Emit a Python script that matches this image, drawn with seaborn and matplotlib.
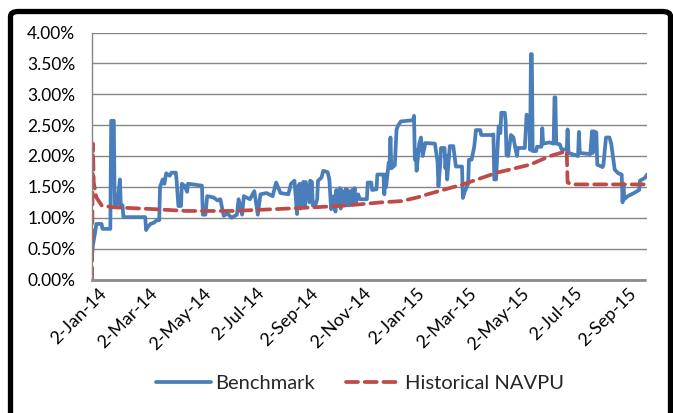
import matplotlib
matplotlib.use("Agg")
import matplotlib.pyplot as plt
import matplotlib.dates as mdates
import matplotlib.transforms as mtransforms
from matplotlib.ticker import PercentFormatter, FuncFormatter
from matplotlib.patches import FancyBboxPatch
import pandas as pd
import seaborn as sns

# Benchmark (in %)
bench_dates = [
    '2014-01-02', '2014-01-03', '2014-01-06', '2014-01-07', '2014-01-13', '2014-01-14', '2014-01-23', '2014-01-24',
    '2014-01-27', '2014-01-28', '2014-01-31', '2014-02-03', '2014-02-04', '2014-02-06', '2014-02-07', '2014-03-04',
    '2014-03-05', '2014-03-07', '2014-03-10', '2014-03-14', '2014-03-17', '2014-03-20', '2014-03-21', '2014-03-24',
    '2014-03-26', '2014-03-28', '2014-04-01', '2014-04-03', '2014-04-08', '2014-04-09', '2014-04-11', '2014-04-14',
    '2014-04-15', '2014-04-18', '2014-04-21', '2014-04-22', '2014-05-08', '2014-05-09', '2014-05-12',
    '2014-05-14', '2014-05-21', '2014-05-26', '2014-05-29', '2014-06-02', '2014-06-06', '2014-06-11', '2014-06-17',
    '2014-06-19', '2014-06-23', '2014-06-25', '2014-07-02', '2014-07-07', '2014-07-11', '2014-07-14', '2014-07-21',
    '2014-07-28', '2014-08-01', '2014-08-06', '2014-08-15',
    '2014-08-18', '2014-08-22', '2014-08-25', '2014-08-26', '2014-08-28', '2014-08-29', '2014-09-01', '2014-09-03',
    '2014-09-04', '2014-09-08', '2014-09-09', '2014-09-11', '2014-09-12', '2014-09-15', '2014-09-17', '2014-09-18',
    '2014-09-22', '2014-09-24', '2014-09-29', '2014-10-01', '2014-10-03', '2014-10-06', '2014-10-08', '2014-10-09',
    '2014-10-10', '2014-10-13', '2014-10-14', '2014-10-15', '2014-10-17', '2014-10-20', '2014-10-21', '2014-10-22',
    '2014-10-24', '2014-10-27', '2014-10-28', '2014-10-30', '2014-10-31', '2014-11-03', '2014-11-05', '2014-11-13',
    '2014-11-14', '2014-11-18', '2014-11-19', '2014-11-24', '2014-11-25', '2014-12-02', '2014-12-03', '2014-12-04',
    '2014-12-05', '2014-12-08', '2014-12-09', '2014-12-10', '2014-12-11', '2014-12-15', '2014-12-17', '2014-12-19',
    '2014-12-22', '2015-01-05', '2015-01-06', '2015-01-07', '2015-01-08', '2015-01-09', '2015-01-12', '2015-01-14',
    '2015-01-16', '2015-01-19', '2015-01-30', '2015-02-02', '2015-02-03', '2015-02-05', '2015-02-06', '2015-02-10',
    '2015-02-11', '2015-02-12', '2015-02-13', '2015-02-16', '2015-02-20', '2015-02-23', '2015-03-02', '2015-03-03',
    '2015-03-05', '2015-03-09', '2015-03-10', '2015-03-13', '2015-03-16', '2015-03-18', '2015-03-23', '2015-03-24',
    '2015-04-06', '2015-04-07', '2015-04-08', '2015-04-10', '2015-04-13', '2015-04-14', '2015-04-15', '2015-04-16',
    '2015-04-20', '2015-04-21', '2015-04-22', '2015-04-24', '2015-04-27', '2015-04-30', '2015-05-01', '2015-05-04',
    '2015-05-05', '2015-05-13', '2015-05-15', '2015-05-18', '2015-05-19', '2015-05-20', '2015-05-21', '2015-05-22',
    '2015-05-26', '2015-05-27', '2015-06-01', '2015-06-02', '2015-06-03', '2015-06-10', '2015-06-15', '2015-06-16',
    '2015-06-17', '2015-06-18', '2015-06-22', '2015-06-24', '2015-06-30', '2015-07-01', '2015-07-02', '2015-07-13',
    '2015-07-14', '2015-07-15', '2015-07-27', '2015-07-29', '2015-07-30', '2015-07-31', '2015-08-03', '2015-08-04',
    '2015-08-10', '2015-08-11', '2015-08-14', '2015-08-18', '2015-08-20', '2015-08-24', '2015-08-28', '2015-09-01',
    '2015-09-02', '2015-09-03', '2015-09-04', '2015-09-08', '2015-09-15', '2015-09-21', '2015-09-22', '2015-09-28',
    '2015-09-30',
]
bench_vals = [
    0.40, 0.55, 0.80, 0.90, 0.90, 0.82, 0.82, 2.57,
    2.57, 1.20, 1.22, 1.62, 1.20, 1.20, 1.01, 1.01,
    0.80, 0.85, 0.90, 0.92, 0.96, 0.96, 1.50, 1.62,
    1.55, 1.72, 1.68, 1.73, 1.73, 1.60, 1.19, 1.19,
    1.55, 1.52, 1.42, 1.55, 1.52, 1.05, 1.05,
    1.35, 1.33, 1.28, 1.30, 1.03, 1.07, 1.00, 1.05,
    1.30, 1.05, 1.35, 1.30, 1.43, 1.05, 1.38, 1.40,
    1.35, 1.57, 1.40, 1.38,
    1.55, 1.60, 1.06, 1.50, 1.55, 1.15, 1.58, 1.20,
    1.58, 1.25, 1.60, 1.58, 1.20, 1.20, 1.30, 1.60,
    1.65, 1.76, 1.74, 1.62, 1.14, 1.35, 1.10, 1.45,
    1.20, 1.48, 1.15, 1.45, 1.25, 1.47, 1.20, 1.45,
    1.20, 1.45, 1.25, 1.48, 1.22, 1.38, 1.30, 1.30,
    1.57, 1.57, 1.45, 1.46, 1.70, 1.70, 1.38, 1.70,
    1.50, 1.89, 1.87, 2.30, 1.80, 1.85, 2.43, 2.50,
    2.56, 2.58, 2.65, 1.94, 2.10, 1.76, 2.20, 2.30,
    2.00, 2.21, 2.20, 1.90, 1.51, 1.86, 2.13, 2.13,
    1.80, 2.00, 1.62, 2.16, 2.16, 1.83, 1.83, 1.32,
    1.42, 1.55, 1.94, 1.94, 2.15, 2.42, 2.42, 2.34,
    2.34, 2.35, 1.62, 1.62, 2.48, 2.40, 2.37, 2.70,
    2.70, 2.56, 2.02, 2.00, 2.34, 2.30, 2.21, 2.00,
    2.13, 2.13, 2.67, 2.62, 2.10, 3.65, 3.65, 2.08,
    2.08, 2.15, 2.15, 2.45, 2.20, 2.22, 2.20, 2.95,
    2.95, 2.20, 2.19, 2.11, 2.10, 2.43, 2.05, 2.00,
    2.39, 2.05, 2.03, 2.40, 2.05, 2.40, 2.38, 1.86,
    1.82, 1.85, 2.30, 2.30, 2.20, 1.78, 1.72, 1.70,
    1.25, 1.55, 1.30, 1.35, 1.40, 1.45, 1.60, 1.65,
    1.70,
]

# Historical NAVPU (in %)
navpu_dates = [
    '2014-01-02', '2014-01-03', '2014-01-04', '2014-01-07', '2014-01-13', '2014-01-26', '2014-03-13', '2014-04-20',
    '2014-06-12', '2014-08-01', '2014-09-15', '2014-10-22', '2014-11-30', '2014-12-23', '2015-01-10', '2015-01-24',
    '2015-03-03', '2015-04-11', '2015-05-19', '2015-06-11', '2015-06-30', '2015-07-01', '2015-07-06', '2015-09-30',
]
navpu_vals = [
    0.00, 2.20, 1.57, 1.33, 1.20, 1.17, 1.14, 1.11,
    1.11, 1.14, 1.17, 1.20, 1.25, 1.27, 1.33, 1.39,
    1.54, 1.73, 1.86, 2.00, 2.08, 1.57, 1.54, 1.54,
]

tick_dates = ['2014-01-02', '2014-03-02', '2014-05-02', '2014-07-02', '2014-09-02', '2014-11-02',
              '2015-01-02', '2015-03-02', '2015-05-02', '2015-07-02', '2015-09-02']
y_ticks = [0, 0.5, 1.0, 1.5, 2.0, 2.5, 3.0, 3.5, 4.0]

bench = pd.DataFrame({'date': pd.to_datetime(bench_dates), 'value': bench_vals})
navpu = pd.DataFrame({'date': pd.to_datetime(navpu_dates), 'value': navpu_vals})

sns.set_style('white')
plt.rcParams['font.family'] = ['Lato', 'DejaVu Sans']

fig = plt.figure(figsize=(6.73, 4.13), dpi=100)
ax = fig.add_axes([92 / 673, 1 - 279.5 / 413, 555 / 673, (279.5 - 32.5) / 413])

sns.lineplot(data=bench, x='date', y='value', ax=ax, color='#4A7EBB', linewidth=2.7,
             estimator=None, sort=False, label='Benchmark')
sns.lineplot(data=navpu, x='date', y='value', ax=ax, color='#BE4B48', linewidth=2.7,
             estimator=None, sort=False, label='Historical NAVPU', dashes=False)
ax.lines[1].set_dashes([3.2, 1.8])
ax.lines[1].set_dash_capstyle('round')

ax.set_ylim(0, 4.0)
ax.set_yticks(y_ticks)
ax.yaxis.set_major_formatter(PercentFormatter(xmax=100, decimals=2))
ax.set_xlim(pd.Timestamp('2014-01-02'), pd.Timestamp('2015-09-30'))
ax.set_xticks(pd.to_datetime(tick_dates))
ax.xaxis.set_major_formatter(FuncFormatter(
    lambda v, p: f"{mdates.num2date(v).day}-{mdates.num2date(v):%b-%y}"))

ax.grid(axis='y', color='#868686', linewidth=1)
ax.set_axisbelow(True)
ax.set_xlabel('')
ax.set_ylabel('')
for s in ['top', 'right']:
    ax.spines[s].set_visible(False)
ax.spines['left'].set_color('#868686')
ax.spines['left'].set_linewidth(1)
ax.spines['bottom'].set_color('#8C8C8C')
ax.spines['bottom'].set_linewidth(2)
ax.spines['bottom'].set_linestyle((0, (1, 1)))
ax.tick_params(length=0)
ax.tick_params(axis='y', labelsize=12.5, pad=12, colors='black')
ax.tick_params(axis='x', labelsize=13, pad=4, colors='black')
shift = mtransforms.ScaledTranslation(6 / 100, 0, fig.dpi_scale_trans)
for lbl in ax.get_xticklabels():
    lbl.set_rotation(45)
    lbl.set_ha('right')
    lbl.set_rotation_mode('anchor')
    lbl.set_transform(lbl.get_transform() + shift)

handles, labels = ax.get_legend_handles_labels()
ax.get_legend().remove()
fig.legend(handles, labels, loc='center', bbox_to_anchor=(0.535, 1 - 383 / 413), ncol=2,
           frameon=False, fontsize=14.5, handlelength=2.7, handletextpad=0.25, columnspacing=1.5)

# black outer border
border = FancyBboxPatch((10.5 / 673, -0.1), (670.5 - 10.5) / 673, 1.1 - 11.5 / 413,
                        boxstyle='round,pad=0,rounding_size=0.012', transform=fig.transFigure,
                        fill=False, edgecolor='black', linewidth=3.8, clip_on=False)
fig.patches.append(border)

fig.savefig('out.png', dpi=100)
